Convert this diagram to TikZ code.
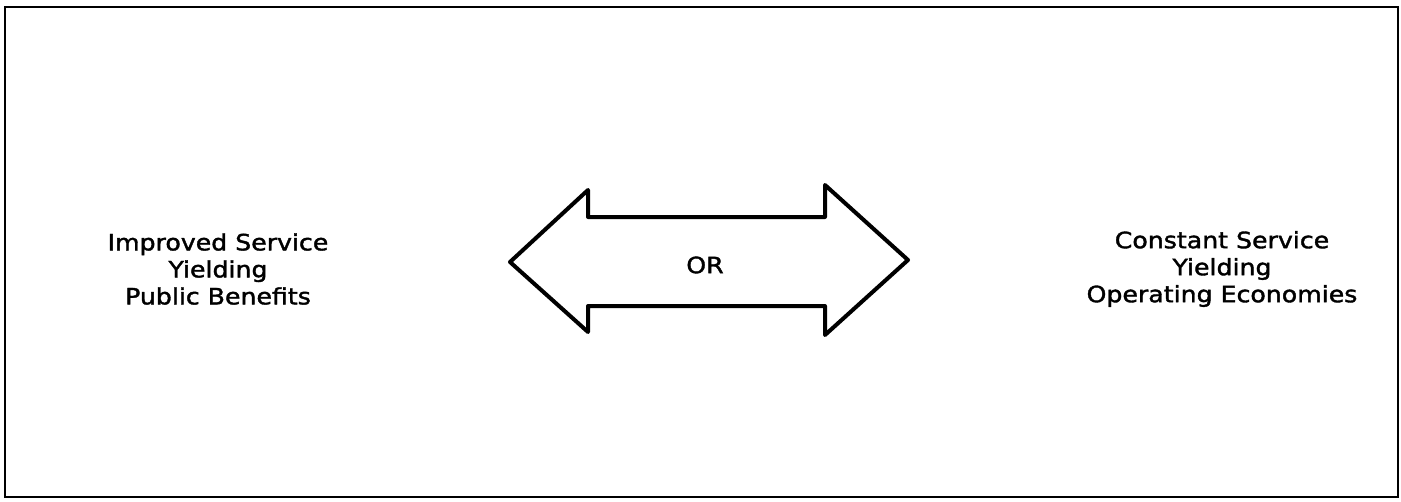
\documentclass[tikz,border=0pt]{standalone}
\usepackage{fontspec}
\setmainfont{DejaVu Sans}[FakeStretch=1.12,FakeBold=1.6]
\begin{document}
\begin{tikzpicture}[x=1pt,y=-1pt,
  frame/.style={draw=black,line width=1.8pt},
  dblarrow/.style={draw=black,line width=4pt,line join=round},
  lbl/.style={align=center,font=\fontsize{22.5}{27}\selectfont,inner sep=0pt}]
\useasboundingbox (0,0) rectangle (1401,501);
\fill[white] (0,0) rectangle (1401,501);
\draw[frame] (5,7) rectangle (1398,497);
\draw[dblarrow] (510,262) -- (588,190) -- (588,217) -- (825,217) -- (825,185)
  -- (908,260) -- (825,335) -- (825,306) -- (588,306) -- (588,332) -- cycle;
\node[lbl] (or) at (705,265) {OR};
\node[lbl] (left) at (218,269) {Improved Service\\Yielding\\Public Benefits};
\node[lbl] (right) at (1222,269) {Constant Service\\Yielding\\Operating Economies};
\end{tikzpicture}
\end{document}
